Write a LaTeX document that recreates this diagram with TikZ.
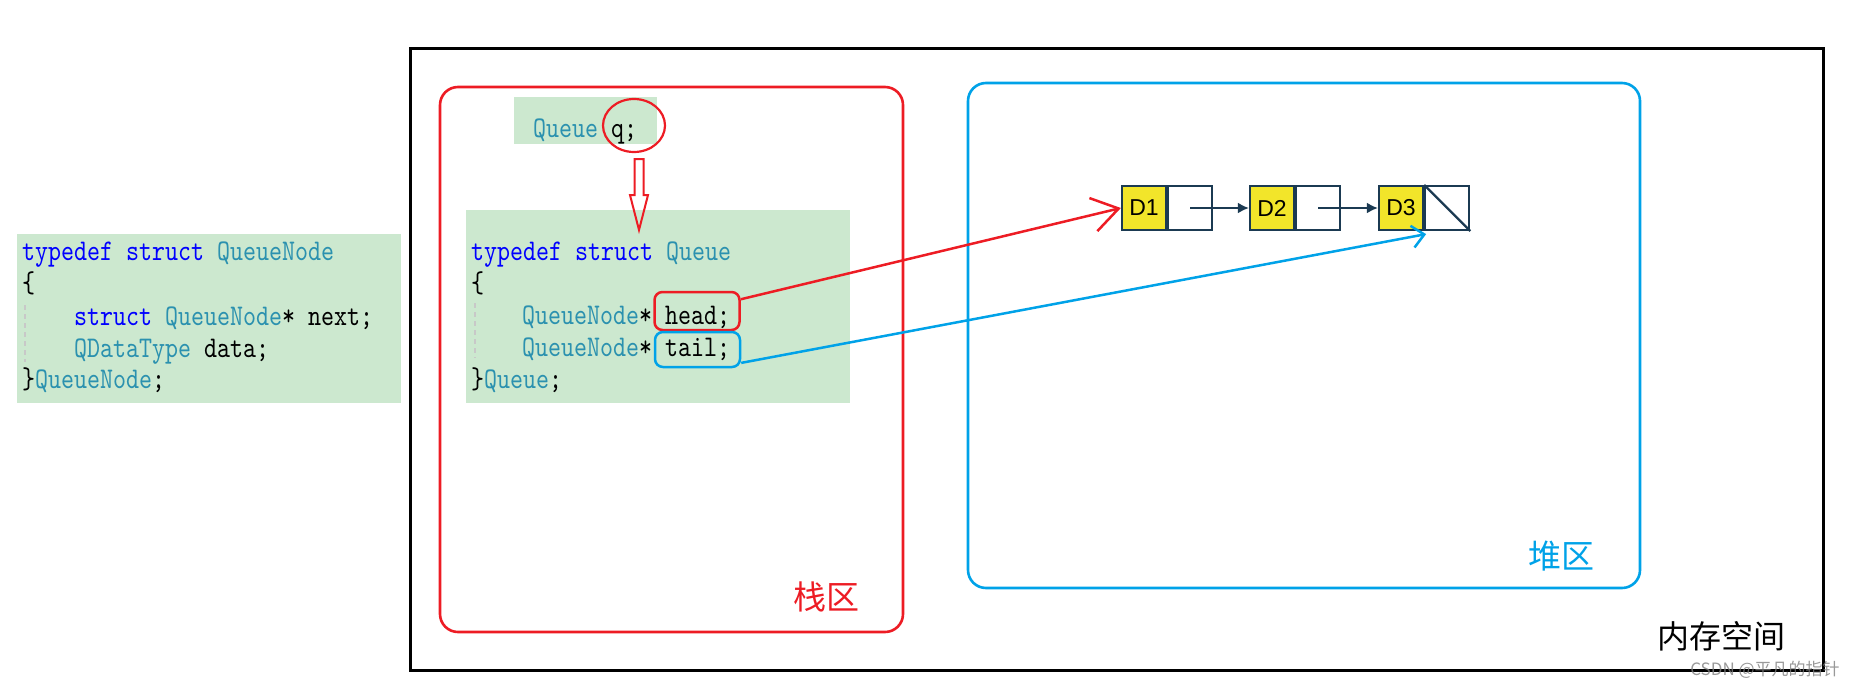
\documentclass[tikz,border=0pt]{standalone}
\usepackage{fontspec}
\newfontfamily\cjk{Noto Sans CJK SC}
\newfontfamily\dfont{Liberation Sans}
\newfontfamily\codefont[FakeStretch=0.825]{lmmono10-regular.otf}
\usetikzlibrary{arrows.meta,shapes.geometric,calc}
\definecolor{myred}{HTML}{ED1C24}
\definecolor{myblue}{HTML}{00A2E8}
\definecolor{codebg}{HTML}{CCE8CF}
\definecolor{kw}{HTML}{0000FF}
\definecolor{ty}{HTML}{2B91AF}
\definecolor{navy}{HTML}{1B3A52}
\definecolor{dyellow}{HTML}{F2E52A}
\definecolor{guide}{HTML}{C8C8C8}
\begin{document}
\begin{tikzpicture}[x=1pt,y=-1pt,
  code/.style={anchor=base west, inner sep=0pt, font=\codefont\fontsize{30}{32}\selectfont},
  bg/.style={fill=codebg, draw=none},
  cjklabel/.style={inner sep=0pt, font=\cjk\fontsize{33}{36}\selectfont},
  dval/.style={draw=navy, line width=2.2pt, fill=dyellow, minimum width=44pt, minimum height=44pt, inner sep=0pt, font=\dfont\fontsize{23}{26}\selectfont},
  dptr/.style={draw=navy, line width=2.2pt, fill=white, minimum width=44pt, minimum height=44pt, inner sep=0pt},
  listarrow/.style={draw=navy, line width=2.2pt, -{Latex[length=11pt,width=11pt]}},
  markbox/.style={rounded corners=8pt, line width=2.5pt, minimum width=85pt, inner sep=0pt},
  area/.style={rounded corners=18pt, line width=2.6pt}
]
\useasboundingbox (0,0) rectangle (1867,688);

% memory frame
\draw[line width=3pt] (410,48) rectangle (1823,670);
% stack and heap areas
\draw[area, myred] (440,87) rectangle (903,632);
\draw[area, myblue] (968,83) rectangle (1640,588);

% left code block
\fill[bg] (17,234) rectangle (401,403);
\draw[guide, line width=1.5pt, dash pattern=on 5pt off 4pt] (25,305) -- (25,362);
\node[code] (l1) at (22,260) {\color{kw}typedef struct \color{ty}QueueNode};
\node[code] (l2) at (22,292) {\{};
\node[code] (l3) at (74,325) {\color{kw}struct \color{ty}QueueNode\color{black}* next;};
\node[code] (l4) at (74,357) {\color{ty}QDataType \color{black}data;};
\node[code] (l5) at (22,388) {\}\color{ty}QueueNode\color{black};};

% Queue q;
\fill[bg] (514,97) rectangle (657,144);
\node[code] (qdecl) at (533,137) {\color{ty}Queue \color{black}q;};
\node[draw=myred, line width=2.2pt, ellipse, minimum width=62pt, minimum height=53pt, inner sep=0pt] (qcirc) at (634,125.5) {};

% struct Queue block
\fill[bg] (466,210) rectangle (850,403);
\draw[guide, line width=1.5pt, dash pattern=on 5pt off 4pt] (475,303) -- (475,358);
\node[code] (s1) at (471,260) {\color{kw}typedef struct \color{ty}Queue};
\node[code] (s2) at (471,292) {\{};
\node[code] (s3) at (522,324) {\color{ty}QueueNode\color{black}*};
\node[code] (s3b) at (665,324) {head;};
\node[code] (s4) at (522,356) {\color{ty}QueueNode\color{black}*};
\node[code] (s4b) at (665,356) {tail;};
\node[code] (s5) at (471,388) {\}\color{ty}Queue\color{black};};

% hollow arrow (on top of the block)
\draw[myred, line width=2pt, line join=miter]
  (634.5,159) -- (643.5,159) -- (643.5,195) -- (648,195) -- (639,230) -- (630,195) -- (634.5,195) -- cycle;

\node[markbox, draw=myred, minimum height=38pt] (headbox) at (697,311) {};
\node[markbox, draw=myblue, minimum height=35pt] (tailbox) at (697.5,349.5) {};

% linked list
\node[dval] (d1) at (1144,208) {D1};
\node[dptr, anchor=west] (d1p) at (d1.east) {};
\node[dval] (d2) at (1272,208) {D2};
\node[dptr, anchor=west] (d2p) at (d2.east) {};
\node[dval] (d3) at (1401,208) {D3};
\node[dptr, anchor=west] (d3p) at (d3.east) {};
\draw[navy, line width=2.2pt] (d3p.north west) -- (d3p.south east);
\draw[listarrow] (d1p.center) -- (d2.west);
\draw[listarrow] (d2p.center) -- (d3.west);

% pointers
\coordinate (tailtip) at ($(d3p.south west)+(2,3)$);
\draw[myred, line width=2.5pt, -{Straight Barb[length=26pt,width=34pt,line width=2.5pt]}] (headbox.15) -- (d1.west);
\draw[myblue, line width=2.5pt, -{Straight Barb[length=12pt,width=22pt,line width=2.5pt]}] (tailbox.-17) -- (tailtip);

% labels
\node[cjklabel, text=myred] (stacklbl) at (826,597) {栈区};
\node[cjklabel, text=myblue] (heaplbl) at (1561,556) {堆区};
\node[cjklabel, text=black, font=\cjk\fontsize{32}{36}\selectfont] (memlbl) at (1721,636) {内存空间};
\node[inner sep=0pt, text=gray, opacity=0.8, font=\cjk\fontsize{17}{20}\selectfont] (wm) at (1765,670) {CSDN @平凡的指针};
\end{tikzpicture}
\end{document}
